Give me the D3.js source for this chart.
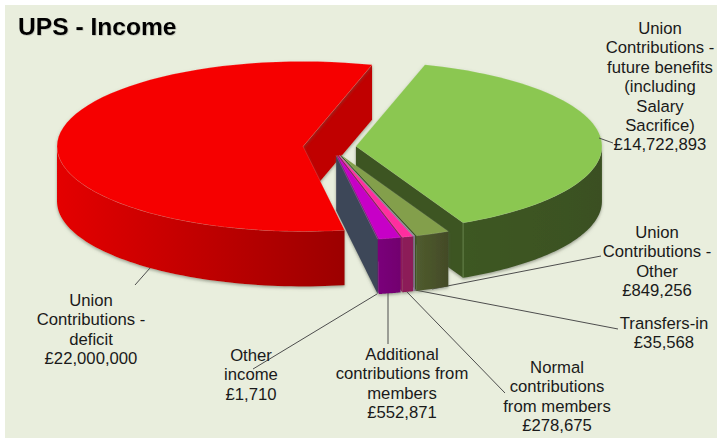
<!DOCTYPE html>
<html><head><meta charset="utf-8">
<script src="https://cdn.jsdelivr.net/npm/d3@7"></script>
<style>html,body{margin:0;padding:0;background:#fff}svg{display:block}text{font-family:"Liberation Sans",Arial,sans-serif}</style>
</head><body><div id="chart"></div>
<script>
const categories=["Union Contributions - future benefits (including Salary Sacrifice)","Union Contributions - Other","Transfers-in","Normal contributions from members","Additional contributions from members","Other income","Union Contributions - deficit"];
const values=[14722893,849256,35568,278675,552871,1710,22000000];
const labelLines=[["Union","Contributions -","future benefits","(including","Salary","Sacrifice)"],["Union","Contributions -","Other"],["Transfers-in"],["Normal","contributions","from members"],["Additional","contributions from","members"],["Other","income"],["Union","Contributions -","deficit"]];
const title="UPS - Income";

const W=717,H=439;
const rx=246,ry=85,depth=55;
const C=[332,147];
const startAngle=16.3*Math.PI/180;
const explode=[0.0976,0.1,0.1,0.1,0.1,0.1,0.118];
const topCol=["#8bc751","#839f4b","#938ea6","#ff2f9f","#c700c7","#5b677f","#f60000"];
const sideL=["#3e5822","#505c2e","#8a6e92","#8c1a58","#7a007a","#3e4759","#e40000"];
const sideR=["#3a5020","#434a27","#8a6e92","#8c1a58","#72006f","#3e4759","#9c0000"];
const wallCol=["#3e5522","#3e5522","#8a6e92","#8c1a58","#7a007a","#3e4759","#c00000"];
const labelPos=[[660,28],[657,232],[664,323],[557,367],[402,354],[251,355],[91,300]];
const leaders=[[[613,143],[599,138]],[[432,289],[601,256]],[[415,290],[618,329]],[[407,292],[505,393]],[[388,293],[388,344]],[[377,294],[253,369]],[[150,268],[135,285]]];

const arcs=d3.pie().sort(null).startAngle(startAngle).endAngle(startAngle+2*Math.PI)(values);
const px=d3.scaleLinear().domain([-1,1]).range([-rx,rx]);
const py=d3.scaleLinear().domain([-1,1]).range([-ry,ry]);

const svg=d3.select("#chart").append("svg").attr("width",W).attr("height",H);
const defs=svg.append("defs");
const sh=defs.append("filter").attr("id","sh").attr("x","-10%").attr("y","-10%").attr("width","120%").attr("height","120%");
sh.append("feDropShadow").attr("dx",0).attr("dy",1.5).attr("stdDeviation",1.4).attr("flood-color","#5a5f50").attr("flood-opacity",0.55);
const ts=defs.append("filter").attr("id","ts").attr("x","-5%").attr("y","-20%").attr("width","110%").attr("height","140%");
ts.append("feDropShadow").attr("dx",0.6).attr("dy",0.6).attr("stdDeviation",0.6).attr("flood-color","#555").attr("flood-opacity",0.4);

svg.append("rect").attr("x",5).attr("y",5).attr("width",W-5).attr("height",H-6).attr("fill","#e9eedd");

const pt=(c,a,z=0)=>[c[0]+px(Math.sin(a)),c[1]-py(Math.cos(a))+z];
const center=(i,d)=>{const m=(d.startAngle+d.endAngle)/2;return [C[0]+explode[i]*px(Math.sin(m)),C[1]-explode[i]*py(Math.cos(m))];};
const arcPts=(c,a0,a1,z=0)=>d3.range(0,65).map(k=>pt(c,a0+(a1-a0)*k/64,z));
const line=d3.line();

values.forEach((v,i)=>{
  const g=defs.append("linearGradient").attr("id","g"+i).attr("gradientUnits","objectBoundingBox").attr("x1",0).attr("x2",1).attr("y1",0).attr("y2",0);
  g.append("stop").attr("offset",0).attr("stop-color",sideL[i]);
  g.append("stop").attr("offset",1).attr("stop-color",sideR[i]);
});

function endWall(g,i,d,c){
  g.append("path").attr("d",line([c,pt(c,d.endAngle),pt(c,d.endAngle,depth),[c[0],c[1]+depth]])+"Z").attr("fill",wallCol[i]);
}
function outerWall(g,i,d,c){
  const lo=Math.max(d.startAngle,Math.PI/2),hi=Math.min(d.endAngle,3*Math.PI/2);
  if(hi<=lo)return;
  g.append("path").attr("d",line(arcPts(c,lo,hi).concat(arcPts(c,lo,hi,depth).reverse()))+"Z").attr("fill","url(#g"+i+")");
}
function topFace(g,i,d,c){
  g.append("path").attr("d",line([c].concat(arcPts(c,d.startAngle,d.endAngle)))+"Z").attr("fill",topCol[i]).attr("stroke","#ffffff").attr("stroke-opacity",0.18).attr("stroke-width",0.6);
}
const redI=6,greenI=0;
const gBack=svg.append("g").attr("filter","url(#sh)");
endWall(gBack,redI,arcs[redI],center(redI,arcs[redI]));
const gGreen=svg.append("g").attr("filter","url(#sh)");
{const c=center(greenI,arcs[greenI]);endWall(gGreen,greenI,arcs[greenI],c);outerWall(gGreen,greenI,arcs[greenI],c);topFace(gGreen,greenI,arcs[greenI],c);
 const e=pt(c,arcs[greenI].endAngle);
 gGreen.append("path").attr("d",line([e,[e[0],e[1]+depth]])).attr("stroke","#6d8a50").attr("stroke-width",0.8);}
const gLead=svg.append("g").attr("stroke","#4d4d4d").attr("stroke-width",1).attr("fill","none");
leaders.forEach(l=>gLead.append("path").attr("d",line(l)));
const gSmall=svg.append("g").attr("filter","url(#sh)");
[1,2,3,4,5].forEach(i=>{const c=center(i,arcs[i]);endWall(gSmall,i,arcs[i],c);outerWall(gSmall,i,arcs[i],c);topFace(gSmall,i,arcs[i],c);});
const gRed=svg.append("g").attr("filter","url(#sh)");
{const c=center(redI,arcs[redI]);outerWall(gRed,redI,arcs[redI],c);topFace(gRed,redI,arcs[redI],c);}

const fmt=v=>"£"+d3.format(",")(v);
const gLab=svg.append("g").attr("font-size",16.7).attr("fill","#1a1a1a").attr("text-anchor","middle");
labelLines.forEach((ls,i)=>{
  const [x,y]=labelPos[i];
  ls.concat([fmt(values[i])]).forEach((s,k)=>{
    gLab.append("text").attr("x",x).attr("y",y+6+k*19.4).text(s);
  });
});
svg.append("text").attr("x",18).attr("y",35).attr("font-size",24.6).attr("font-weight",700).attr("fill","#000").attr("filter","url(#ts)").text(title);
</script></body></html>
